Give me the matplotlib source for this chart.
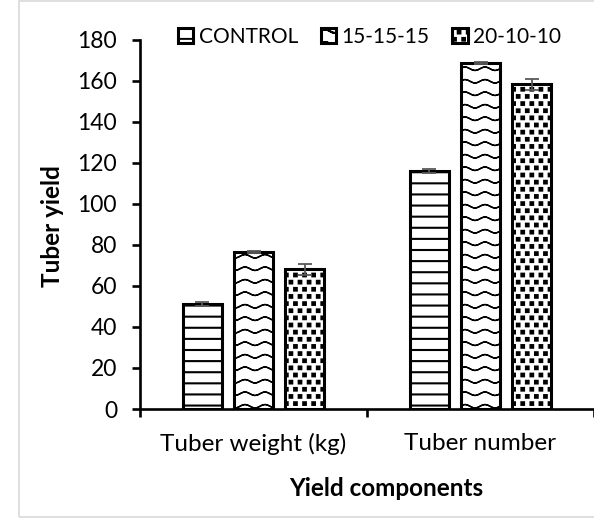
import warnings
import matplotlib
matplotlib.use('Agg')
import matplotlib.pyplot as plt
import matplotlib.hatch as mhatch
from matplotlib.path import Path
from matplotlib.patches import Rectangle
import numpy as np

warnings.filterwarnings('ignore')

# Data
components = ['Tuber weight (kg)', 'Tuber number']
treatments = ['CONTROL', '15-15-15', '20-10-10']
control = [51.2, 116.2]
npk_151515 = [76.5, 168.8]
npk_201010 = [68.1, 158.3]
control_err = [1.0, 1.0]
npk_151515_err = [0.5, 0.5]
npk_201010_err = [2.6, 2.7]


# custom hatches: '=' stripes, '~' waves, '#' staggered squares
class StripeHatch(mhatch.HatchPatternBase):
    def __init__(self, hatch, density):
        self.n = 9 if '=' in hatch else 0
        self.num_vertices = self.n * 2

    def set_vertices_and_codes(self, vertices, codes):
        y = (np.arange(self.n) + 0.5) / self.n
        vertices[0::2, 0] = 0.0
        vertices[1::2, 0] = 1.0
        vertices[0::2, 1] = y
        vertices[1::2, 1] = y
        codes[0::2] = Path.MOVETO
        codes[1::2] = Path.LINETO


class WaveHatch(mhatch.HatchPatternBase):
    rows, periods, pts = 8, 5, 81

    def __init__(self, hatch, density):
        self.on = '~' in hatch
        self.num_vertices = self.rows * (2 * self.pts - 1) if self.on else 0

    def set_vertices_and_codes(self, vertices, codes):
        x = np.linspace(0, 1, self.pts)
        xs = np.concatenate([x, x[-2::-1]])
        per = len(xs)
        for r in range(self.rows):
            y0 = (r + 0.5) / self.rows
            ys = y0 + 0.017 * np.sin(2 * np.pi * self.periods * xs)
            vertices[r * per:(r + 1) * per, 0] = xs
            vertices[r * per:(r + 1) * per, 1] = ys
            codes[r * per] = Path.MOVETO
            codes[r * per + 1:(r + 1) * per] = Path.LINETO


class SquareHatch(mhatch.HatchPatternBase):
    rows, cols, size = 14, 11, 0.028

    def __init__(self, hatch, density):
        self.on = '#' in hatch
        self.num_vertices = self.rows * (self.cols + 1) * 5 if self.on else 0

    def set_vertices_and_codes(self, vertices, codes):
        s = self.size / 2
        k = 0
        for r in range(self.rows):
            y = (r + 0.5) / self.rows
            off = 0.5 if r % 2 else 0.0
            for c in range(self.cols + 1):
                x = (c + off) / self.cols
                vertices[k:k + 5] = [(x - s, y - s), (x + s, y - s), (x + s, y + s),
                                     (x - s, y + s), (x - s, y - s)]
                codes[k:k + 5] = [Path.MOVETO, Path.LINETO, Path.LINETO,
                                  Path.LINETO, Path.CLOSEPOLY]
                k += 5


mhatch._hatch_types.extend([StripeHatch, WaveHatch, SquareHatch])

plt.rcParams['font.family'] = ['Lato', 'DejaVu Sans']
plt.rcParams['hatch.linewidth'] = 1.4
plt.rcParams['hatch.color'] = 'black'

fig = plt.figure(figsize=(5.94, 5.19), dpi=100)
fig.patch.set_facecolor('white')
ax = fig.add_axes([140 / 594, 1 - 409 / 519, 1 - 140 / 594, (409 - 40) / 519])

x = np.arange(len(components))
width = 0.172
step = 0.225
series = [(control, control_err, '=', 1.5), (npk_151515, npk_151515_err, '~', 1.0),
          (npk_201010, npk_201010_err, '#', 1.4)]
for i, (vals, errs, hatch, hlw) in enumerate(series):
    pos = x + (i - 1) * step
    bars = ax.bar(pos, vals, width, color='white', edgecolor='black', linewidth=2.2,
                  hatch=hatch, label=treatments[i], zorder=2)
    for b in bars:
        if hasattr(b, 'set_hatch_linewidth'):
            b.set_hatch_linewidth(hlw)
    ax.errorbar(pos, vals, yerr=errs, fmt='none', ecolor='#595959',
                elinewidth=1.3, capsize=5, capthick=1.3, zorder=3)

ax.set_xlim(-0.5, -0.5 + 454 / 231)
ax.set_ylim(0, 180)
ax.set_yticks(np.arange(0, 181, 20))
ax.set_xticks(x)
ax.set_xticklabels(components)
ax.set_xticks([-0.5, 0.5, 1.5], minor=True)

for side in ['top', 'right']:
    ax.spines[side].set_visible(False)
for side in ['left', 'bottom']:
    ax.spines[side].set_linewidth(1.9)
    ax.spines[side].set_zorder(4)

ax.tick_params(axis='y', direction='out', length=5.5, width=1.9, labelsize=16.5,
               pad=11, colors='black')
ax.tick_params(axis='x', which='major', length=0, labelsize=17.5, pad=17)
ax.tick_params(axis='x', which='minor', direction='out', length=6, width=1.9)

fig.text(52 / 594, 1 - 226 / 519, 'Tuber yield', rotation=90, ha='center',
         va='center', fontsize=17.5, fontweight='bold')
fig.text(386 / 594, 1 - 489 / 519, 'Yield components', ha='center',
         va='center', fontsize=17.5, fontweight='bold')

ax.legend(loc='center left', bbox_to_anchor=(178 / 594, 1 - 37 / 519),
          bbox_transform=fig.transFigure, ncol=3, frameon=False, fontsize=15,
          handlelength=0.74, handleheight=0.74, handletextpad=0.25,
          columnspacing=1.1, borderpad=0, borderaxespad=0)

# light grey border around the picture
fig.patches.append(Rectangle((19 / 594, 2 / 519), 1.1, 516 / 519, transform=fig.transFigure,
                             fill=False, edgecolor='#d9d9d9', linewidth=1.2))

plt.savefig('out.png', dpi=100, facecolor='white')
